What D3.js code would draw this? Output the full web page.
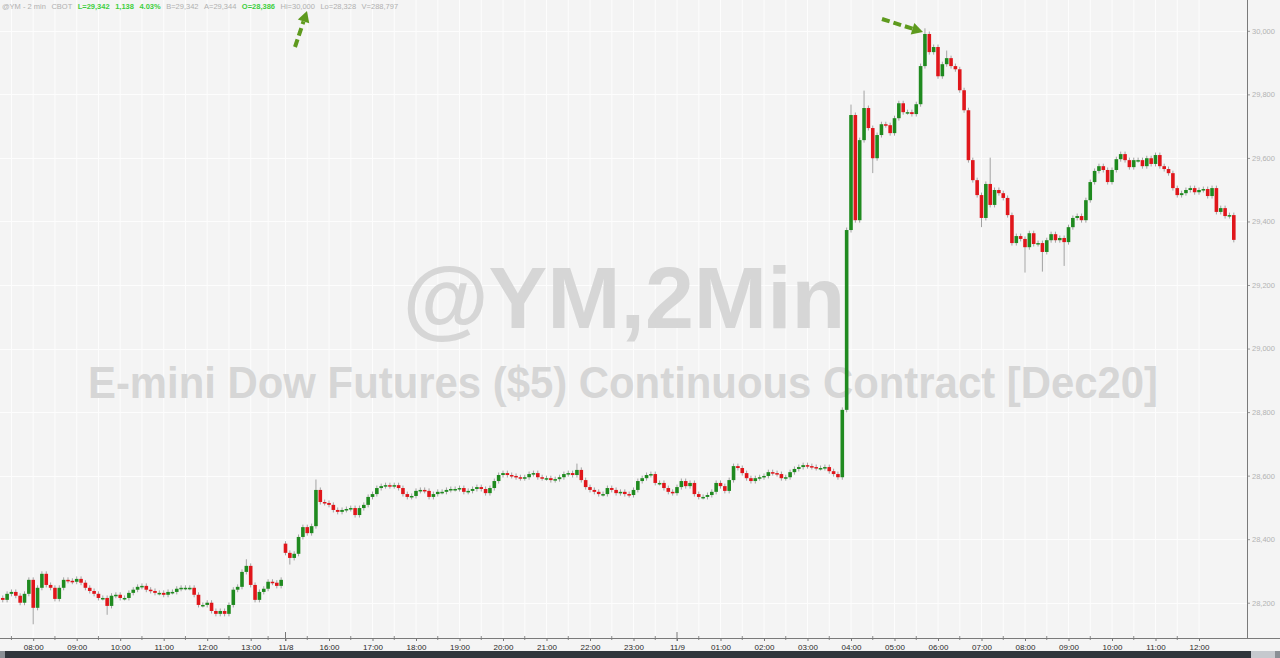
<!DOCTYPE html>
<html><head><meta charset="utf-8">
<script src="https://cdn.jsdelivr.net/npm/d3@7"></script>
<style>html,body{margin:0;padding:0;background:#f4f4f4;overflow:hidden}svg{display:block}</style>
</head><body><svg id="c" width="1280" height="658"></svg>
<script>
// ---- data (6-minute candles, closes) ----
const closeFriday = [28209,28228,28234,28222,28200,28228,28272,28184,28247,28291,
 28256,28247,28212,28247,28272,28269,28266,28275,28263,28247,
 28237,28228,28215,28215,28190,28222,28225,28215,28215,28231,
 28241,28250,28253,28241,28237,28231,28231,28225,28234,28234,
 28244,28247,28247,28247,28225,28193,28193,28200,28174,28165,
 28174,28165,28193,28241,28250,28297,28316,28256,28209,28234,
 28244,28266,28263,28253,28272];
const closeOvernight = [28357,28341,28354,28407,28438,28419,28441,28555,28517,28514,
 28508,28492,28486,28492,28495,28498,28476,28498,28508,28533,
 28542,28561,28567,28570,28567,28570,28561,28542,28533,28536,
 28552,28555,28552,28533,28542,28549,28549,28555,28558,28558,
 28561,28549,28552,28558,28564,28558,28545,28561,28583,28602,
 28608,28602,28599,28595,28592,28595,28605,28608,28595,28592,
 28592,28586,28589,28595,28605,28608,28602,28618,28586,28564,
 28555,28549,28542,28542,28561,28555,28545,28549,28542,28539,
 28555,28583,28592,28602,28605,28577,28577,28561,28549,28545,
 28564,28583,28567,28577,28542,28533,28533,28539,28549,28577,
 28567,28552,28586,28630,28624,28608,28592,28583,28592,28595,
 28599,28611,28608,28605,28592,28595,28611,28621,28627,28633,
 28630,28627,28624,28624,28627,28614,28605,28595];
const closeAfterJump = [28807,29373,29735,29404,29656,29757,29694,29599,29672,29706,
 29703,29678,29725,29772,29744,29744,29738,29769,29889,29990,
 29933,29949,29857,29895,29914,29889,29879,29813,29750,29593,
 29530,29483,29411,29518,29452,29499,29489,29474,29420,29332,
 29354,29345,29319,29363,29329,29332,29304,29341,29360,29341,
 29348,29335,29382,29411,29417,29404,29467,29524,29559,29574,
 29562,29524,29562,29596,29612,29593,29571,29593,29593,29574,
 29599,29581,29609,29574,29565,29552,29505,29483,29489,29499,
 29505,29492,29499,29502,29480,29505,29430,29442,29417,29420,29342];
const sessionStartSlots = [0, 65];
const sessionOpens = [28215, 28386];
const spikeSlots = [7, 24, 56, 66, 72, 132, 195, 198, 200, 212, 217, 225, 227, 235, 239, 244];
const spikeHighs = [null, null, 28329, null, 28580, 28630, 29760, 29804, null, 30000, 29930, null, 29593, null, null, null];
const spikeLows  = [28140, 28170, null, 28328, null, null, null, null, 29560, null, null, 29390, null, 29247, 29250, 29268];
const priceTicks = [28200, 28400, 28600, 28800, 29000, 29200, 29400, 29600, 29800, 30000];
const timeTickSlots = [7,17,27,37,47,57,65,75,85,95,105,115,125,135,145,155,165,175,185,195,205,215,225,235,245,255,265,275];
const timeTickLabels = ["08:00","09:00","10:00","11:00","12:00","13:00","11/8","16:00","17:00","18:00","19:00","20:00","21:00","22:00","23:00","11/9","01:00","02:00","03:00","04:00","05:00","06:00","07:00","08:00","09:00","10:00","11:00","12:00"];
const headerTexts = ["@YM - 2 min","CBOT","L=29,342","1,138","4.03%","B=29,342","A=29,344","O=28,386","Hi=30,000","Lo=28,328","V=288,797"];
const headerGreen = [false,false,true,true,true,false,false,true,false,false,false];
const headerBold = [false,false,true,true,true,false,false,true,false,false,false];
const watermark1 = "@YM,2Min";
const watermark2 = "E-mini Dow Futures ($5) Continuous Contract [Dec20]";

// ---- build candles ----
const closes = closeFriday.concat(closeOvernight, closeAfterJump);
const candles = closes.map((c, i) => {
  const si = sessionStartSlots.indexOf(i);
  const o = si >= 0 ? sessionOpens[si] : closes[i - 1];
  const k = spikeSlots.indexOf(i);
  let h = Math.max(o, c), l = Math.min(o, c);
  if (k >= 0) { if (spikeHighs[k] != null) h = Math.max(h, spikeHighs[k]); if (spikeLows[k] != null) l = Math.min(l, spikeLows[k]); }
  return {i, o, c, h, l};
});

const W = 1280, H = 658, axisX = 1247, axisY = 638;
const svg = d3.select("#c");
const x = d3.scaleLinear().domain([0, closes.length - 1]).range([2.75, 2.75 + (closes.length - 1) * 4.35]);
const y = d3.scaleLinear().domain([28089, 30097]).range([axisY, 0]);

svg.append("rect").attr("width", W).attr("height", H).attr("fill", "#f4f4f4");

// grid
const minorSlots = [timeTickSlots[0] - 5].concat(timeTickSlots.slice(1).map((s, j) => (s + timeTickSlots[j]) / 2));
const g = svg.append("g");
g.selectAll("line.v").data(timeTickSlots.concat(minorSlots)).join("line")
  .attr("x1", d => x(d)).attr("x2", d => x(d)).attr("y1", 0).attr("y2", axisY)
  .attr("stroke", "#fdfdfd").attr("stroke-width", 1);
g.selectAll("line.h").data(priceTicks).join("line")
  .attr("x1", 0).attr("x2", axisX).attr("y1", d => Math.round(y(d)) + 0.5).attr("y2", d => Math.round(y(d)) + 0.5)
  .attr("stroke", "#fdfdfd").attr("stroke-width", 1);

// watermark
svg.append("text").attr("x", 624).attr("y", 328).attr("text-anchor", "middle")
  .attr("font-family", "Liberation Sans, Arial, sans-serif").attr("font-weight", "bold").attr("font-size", 88)
  .attr("fill", "#d6d6d6").text(watermark1);
svg.append("text").attr("x", 623).attr("y", 398).attr("text-anchor", "middle")
  .attr("font-family", "Liberation Sans, Arial, sans-serif").attr("font-weight", "bold").attr("font-size", 45)
  .attr("textLength", 1070).attr("lengthAdjust", "spacingAndGlyphs")
  .attr("fill", "#d6d6d6").text(watermark2);

// candles
const cg = svg.append("g");
cg.selectAll("line.w").data(candles).join("line")
  .attr("x1", d => x(d.i)).attr("x2", d => x(d.i))
  .attr("y1", d => y(d.h) - 2.5).attr("y2", d => y(d.l) + 2.5)
  .attr("stroke", "#a3a3a3").attr("stroke-width", 1);
cg.selectAll("rect").data(candles).join("rect")
  .attr("x", d => x(d.i) - 1.8).attr("width", 3.6)
  .attr("y", d => y(Math.max(d.o, d.c)))
  .attr("height", d => Math.max(1.5, y(Math.min(d.o, d.c)) - y(Math.max(d.o, d.c))))
  .attr("fill", d => d.c >= d.o ? "#1f8a1f" : "#e0161b");

// right axis
svg.append("rect").attr("x", axisX).attr("y", 0).attr("width", W - axisX).attr("height", axisY).attr("fill", "#f4f4f4");
const ya = svg.append("g").attr("transform", `translate(${axisX},0)`)
  .call(d3.axisRight(y).tickValues(priceTicks).tickSize(3).tickPadding(2).tickFormat(d3.format(",")));
ya.select(".domain").remove();
ya.selectAll("line").attr("stroke", "#999");
ya.selectAll("text").attr("font-family", "Liberation Sans, Arial, sans-serif").attr("font-size", 7.5).attr("fill", "#b3b3b3");
svg.append("line").attr("x1", axisX + 0.5).attr("x2", axisX + 0.5).attr("y1", 0).attr("y2", axisY).attr("stroke", "#7a7a7a");

// bottom axis
const xa = svg.append("g").attr("transform", `translate(0,${axisY})`)
  .call(d3.axisBottom(x).tickValues(timeTickSlots).tickSize(3).tickPadding(3).tickFormat((d, i) => timeTickLabels[i]));
xa.select(".domain").remove();
xa.selectAll("line").attr("stroke", "#777");
xa.selectAll("text").attr("font-family", "Liberation Sans, Arial, sans-serif").attr("font-size", 8).attr("fill", "#2a2a2a");
svg.append("g").selectAll("line").data(minorSlots).join("line")
  .attr("x1", d => x(d)).attr("x2", d => x(d)).attr("y1", axisY - 2).attr("y2", axisY + 2).attr("stroke", "#888");
svg.append("g").selectAll("line").data([timeTickSlots[6], timeTickSlots[15]]).join("line")
  .attr("x1", d => x(d)).attr("x2", d => x(d)).attr("y1", axisY - 6).attr("y2", axisY + 3).attr("stroke", "#777");
svg.append("line").attr("x1", 0).attr("x2", W).attr("y1", axisY + 0.5).attr("y2", axisY + 0.5).attr("stroke", "#7a7a7a");

// bottom band
svg.append("rect").attr("x", 0).attr("y", 651).attr("width", W).attr("height", 7).attr("fill", "#30363c");
svg.append("rect").attr("x", 0).attr("y", 651).attr("width", 5).attr("height", 7).attr("fill", "#8a8f95");
svg.append("rect").attr("x", 1251).attr("y", 651).attr("width", 24).attr("height", 7).attr("fill", "#c6c9ce");
svg.append("rect").attr("x", 1275).attr("y", 651).attr("width", 5).attr("height", 7).attr("fill", "#8a8f95");

// header: tokens laid out one after another
const hdr = svg.append("g");
let hx = 2;
headerTexts.forEach((t, i) => {
  const el = hdr.append("text").attr("x", hx).attr("y", 9)
    .attr("font-family", "Liberation Sans, Arial, sans-serif").attr("font-size", 7.5)
    .attr("font-weight", headerBold[i] ? "bold" : "normal")
    .attr("fill", headerGreen[i] ? "#3ecf3e" : "#b0b0b0").text(t);
  hx += el.node().getComputedTextLength() + 5.5;
});

// annotation arrows
const arrowCol = "#5e9a1e";
function arrow(x1, y1, x2, y2) {
  const ang = Math.atan2(y2 - y1, x2 - x1), hl = 11, hw = 6;
  const bx = x2 - hl * Math.cos(ang), by = y2 - hl * Math.sin(ang);
  svg.append("line").attr("x1", x1).attr("y1", y1).attr("x2", bx).attr("y2", by)
    .attr("stroke", arrowCol).attr("stroke-width", 4).attr("stroke-dasharray", "8,4");
  const px = -Math.sin(ang) * hw, py = Math.cos(ang) * hw;
  svg.append("path").attr("d", `M${x2},${y2}L${bx + px},${by + py}L${bx - px},${by - py}Z`).attr("fill", arrowCol);
}
arrow(295, 47, 307, 11);
arrow(882, 19, 923, 32);
</script></body></html>
